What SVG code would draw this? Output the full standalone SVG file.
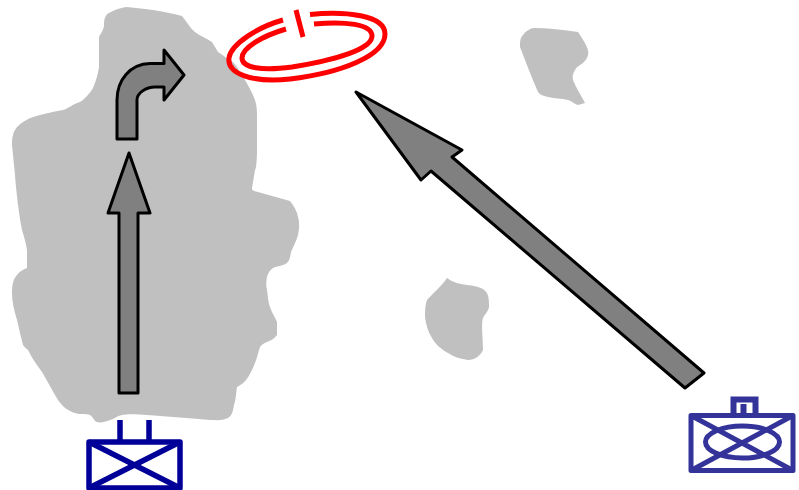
<svg xmlns="http://www.w3.org/2000/svg" width="799" height="490" viewBox="0 0 799 490">
<style>
.land{fill:#c0c0c0;stroke:none}
.arrow{fill:#808080;stroke:#000;stroke-width:3;stroke-linejoin:round}
.ring{fill:none;stroke:#f00;stroke-width:5}
.u1{fill:none;stroke:#000099;stroke-width:5.5;stroke-linejoin:round}
.u2{fill:none;stroke:#333399;stroke-width:5;stroke-linejoin:round}
</style>
<g id="terrain">
<path class="land" d="M126 7 C140 8 165 11 182 16 C187 22 190 28 195 32 C200 36 206 38 212 42 L218 52 C224 56 228 59 233 62 C238 68 241 73 245 80 C249 87 252 92 255 100 C257 106 257 112 257 117 L257 150 C257 160 256 170 255 170 L252 188 C252 191 254 191 258 192 L290 201 C294 206 297 211 298 217 C300 224 299 230 298 235 C296 242 293 247 291 252 C290 257 290 260 287 263 C283 266 277 266 273 268 C270 270 268 273 267 277 C266 282 266 286 267 290 C268 297 268 301 270 307 C272 313 275 317 277 322 L277 335 C274 339 270 341 267 342 C263 344 261 345 260 347 C258 353 257 358 255 363 C252 370 250 375 246 380 C243 384 240 385 237 387 C236 393 236 399 234 405 C233 411 232 416 228 418 C222 421 216 420 210 420 C195 419 178 417 160 416 C150 415 130 413 122 415 C117 416 114 419 110 420 C105 422 100 423 97 422 C94 421 94 418 90 415 C85 413 80 415 75 413 C68 411 63 407 58 400 C53 392 48 382 42 372 C36 364 32 358 28 350 C26 348 24 347 23 345 C21 337 19 329 17 320 C14 310 12 302 12 293 C12 286 13 279 17 275 C20 271 24 269 27 268 L27 250 C26 243 24 237 22 230 C19 215 16 190 15 175 C14 165 13 155 12 145 C12 137 13 132 17 127 C22 122 27 119 33 117 C42 114 52 112 63 110 C68 109 72 104 80 102 C85 99 90 93 93 88 C96 81 98 74 99 67 L99 37 C101 33 103 31 104 26 C104 19 105 15 109 13 C114 10 120 8 126 7 Z"/>
<path class="land" d="M533 28 C548 28 564 30 578 32 C582 38 586 44 588 50 C589 55 587 59 584 62 C581 65 577 66 575 70 C573 73 572 77 573 80 C576 88 581 95 585 103 L578 105 C574 104 572 101 568 100 C561 98 555 99 548 97 C544 96 540 95 538 92 C532 78 525 60 520 47 C520 42 520 38 523 35 C526 31 529 29 533 28 Z"/>
<path class="land" d="M447 278 C450 280 453 282 457 283 C464 285 471 285 478 287 C482 288 485 290 487 293 C489 297 489 302 489 307 C488 312 485 314 483 318 C481 323 483 340 483 350 C481 355 475 360 468 360 C461 359 454 357 448 353 C441 349 436 345 432 338 C428 332 426 325 425 317 C425 311 425 305 427 300 C433 293 441 287 447 278 Z"/>
</g>
<g id="objective">
<path class="ring" d="M310 14.500 C345 11 385 15 385 34 C385 56 340 73 290 79 C250 83 227 73 229 58 C231 44 258 27 283 20"/>
<path class="ring" d="M314 24 C345 21 372 24 372 36 C372 49 335 60 292 67 C262 71 242 68 242 58 C242 48 262 36 286 29"/>
<path class="ring" d="M296 10 L303 37"/>
</g>
<g id="connectors">
<path class="arrow" d="M119 393 L119 213 L108 213 L129 153 L150 213 L138 213 L138 393 Z"/>
<path class="arrow" d="M117 139 L117 100 C117 80 130 64 150 63.500 L164 63.500 L164 50 L184 75 L164 100 L164 87 L155 87 C146 87 137 93 137 100 L137 139 Z"/>
<path class="arrow" d="M704 373 L452 157 L462 150 L356 92 L421 180 L431 171 L685 388 Z"/>
</g>
<g id="unit-left">
<rect class="u1" x="89" y="442" width="91" height="46"/>
<path class="u1" d="M89 442 L180 488 M180 442 L89 488"/>
<path class="u1" stroke-width="6" d="M120 420 L120 441 M149 420 L149 441"/>
</g>
<g id="unit-right">
<rect class="u2" x="691" y="415.500" width="102" height="55"/>
<path class="u2" d="M691 415.500 L793 470.500 M793 415.500 L691 470.500"/>
<ellipse class="u2" cx="742.500" cy="442" rx="37" ry="16"/>
<path class="u2" style="stroke-width:6;stroke-linejoin:miter" d="M733.500 414 L733.500 399.500 L755.500 399.500 L755.500 414"/>
<path class="u2" style="stroke-width:6;stroke-linejoin:miter" d="M743.500 404 L743.500 414"/>
</g>
</svg>
